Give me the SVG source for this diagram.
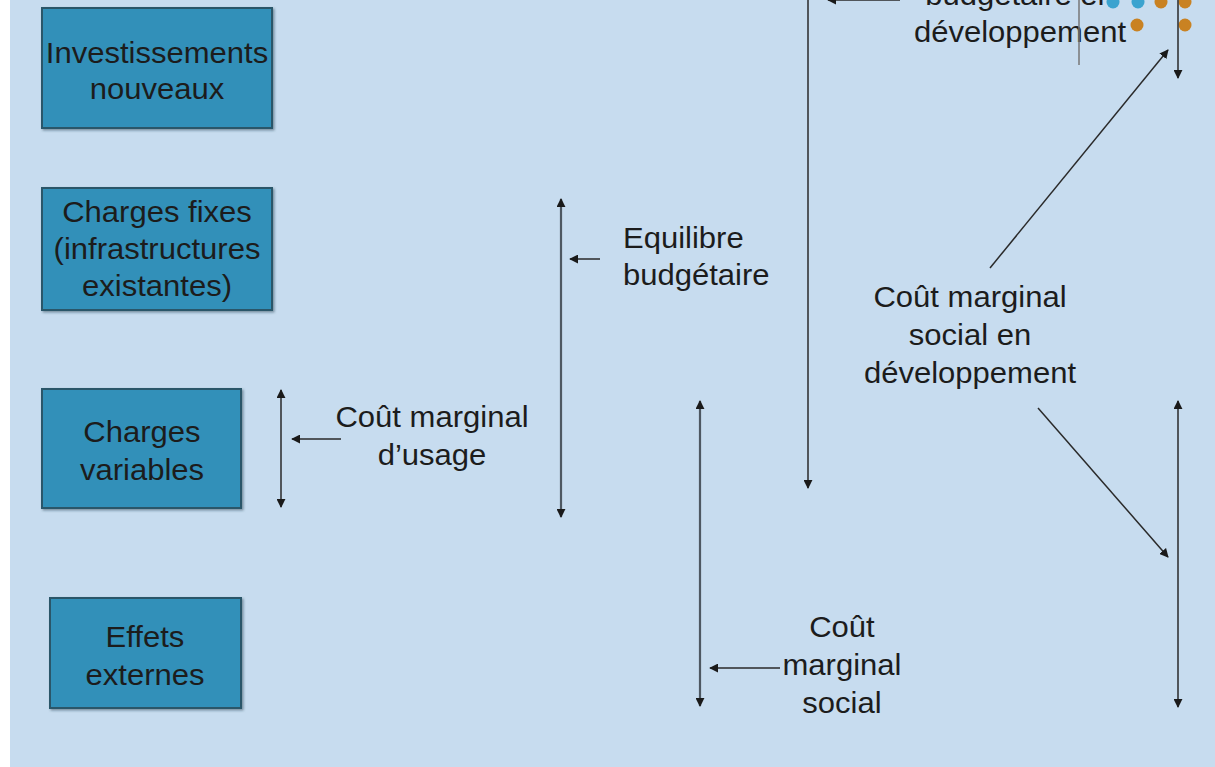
<svg xmlns="http://www.w3.org/2000/svg" width="1215" height="767" viewBox="0 0 1215 767">
  <style>
    .bg { fill: #c7dcef; }
    .box { fill: #3190b9; stroke: #2a5669; stroke-width: 2; }
    .t { font-family: "Liberation Sans", Arial, Helvetica, sans-serif; font-size: 29px; fill: #1c1c1c; text-anchor: middle;
         transform-box: fill-box; transform-origin: center; transform: scaleX(1.07); }
    .tl { text-anchor: start; transform-origin: left center; }
    .c { stroke: #2a2a2a; stroke-width: 1.5; fill: none; }
    .cg { stroke: #4e5862; stroke-width: 2.2; fill: none; }
    .dotb { fill: #3ba3cf; }
    .doto { fill: #c98222; }
  </style>
  <defs>
    <marker id="ah" viewBox="0 0 10 10" refX="9" refY="5" markerWidth="9" markerHeight="9" markerUnits="userSpaceOnUse" orient="auto-start-reverse">
      <path d="M0,0 L10,5 L0,10 z" fill="#1a1a1a"/>
    </marker>
    <filter id="sh" x="-5%" y="-5%" width="115%" height="115%">
      <feDropShadow dx="1.5" dy="1.5" stdDeviation="1" flood-color="#1d3c4a" flood-opacity="0.5"/>
    </filter>
  </defs>

  <rect x="0" y="0" width="1215" height="767" fill="#ffffff"/>
  <rect class="bg" x="10" y="0" width="1205" height="767"/>

  <g id="node-investissements">
    <rect class="box" x="42" y="8" width="230" height="120" filter="url(#sh)"/>
    <text class="t" x="157" y="63">Investissements</text>
    <text class="t" x="157" y="99">nouveaux</text>
  </g>

  <g id="node-charges-fixes">
    <rect class="box" x="42" y="188" width="230" height="122" filter="url(#sh)"/>
    <text class="t" x="157" y="222">Charges fixes</text>
    <text class="t" x="157" y="259">(infrastructures</text>
    <text class="t" x="157" y="296">existantes)</text>
  </g>

  <g id="node-charges-variables">
    <rect class="box" x="42" y="389" width="199" height="119" filter="url(#sh)"/>
    <text class="t" x="142" y="442">Charges</text>
    <text class="t" x="142" y="480">variables</text>
  </g>

  <g id="node-effets-externes">
    <rect class="box" x="50" y="598" width="191" height="110" filter="url(#sh)"/>
    <text class="t" x="145" y="647">Effets</text>
    <text class="t" x="145" y="685">externes</text>
  </g>

  <g id="label-cout-marginal-usage">
    <text class="t" x="432" y="427">Coût marginal</text>
    <text class="t" x="432" y="465">d’usage</text>
  </g>

  <g id="label-equilibre-budgetaire">
    <text class="t tl" x="623" y="248">Equilibre</text>
    <text class="t tl" x="623" y="285">budgétaire</text>
  </g>

  <g id="label-cout-marginal-social">
    <text class="t" x="842" y="637">Coût</text>
    <text class="t" x="842" y="675">marginal</text>
    <text class="t" x="842" y="713">social</text>
  </g>

  <g id="label-cout-marginal-social-dev">
    <text class="t" x="970" y="307">Coût marginal</text>
    <text class="t" x="970" y="345">social en</text>
    <text class="t" x="970" y="383">développement</text>
  </g>

  <g id="label-budgetaire-dev">
    <text class="t" x="1020" y="5">budgétaire en</text>
    <text class="t" x="1020" y="42">développement</text>
  </g>

  <g id="dots">
    <circle class="dotb" cx="1113" cy="2" r="6.5"/>
    <circle class="dotb" cx="1138" cy="2" r="6.5"/>
    <circle class="doto" cx="1161" cy="2" r="6.5"/>
    <circle class="doto" cx="1185" cy="2" r="6.5"/>
    <circle class="doto" cx="1137" cy="25" r="6.5"/>
    <circle class="doto" cx="1185" cy="25" r="6.5"/>
  </g>

  <g id="connectors">
    <line class="c" x1="281" y1="390" x2="281" y2="507" marker-start="url(#ah)" marker-end="url(#ah)"/>
    <line class="c" x1="341" y1="439" x2="292" y2="439" marker-end="url(#ah)"/>
    <line class="cg" x1="561" y1="199" x2="561" y2="517" marker-start="url(#ah)" marker-end="url(#ah)"/>
    <line class="c" x1="600" y1="259" x2="570" y2="259" marker-end="url(#ah)"/>
    <line class="cg" x1="700" y1="401" x2="700" y2="706" marker-start="url(#ah)" marker-end="url(#ah)"/>
    <line class="c" x1="780" y1="668" x2="710" y2="668" marker-end="url(#ah)"/>
    <line class="c" x1="808" y1="0" x2="808" y2="488" marker-end="url(#ah)"/>
    <line class="c" x1="900" y1="0" x2="828" y2="0" marker-end="url(#ah)"/>
    <line x1="1079" y1="0" x2="1079" y2="65" stroke="#777" stroke-width="1.5"/>
    <line class="c" x1="1178" y1="0" x2="1178" y2="78" marker-end="url(#ah)"/>
    <line class="c" x1="990" y1="268" x2="1168" y2="50" marker-end="url(#ah)"/>
    <line class="c" x1="1038" y1="408" x2="1168" y2="557" marker-end="url(#ah)"/>
    <line class="c" x1="1178" y1="401" x2="1178" y2="707" marker-start="url(#ah)" marker-end="url(#ah)"/>
  </g>
</svg>
